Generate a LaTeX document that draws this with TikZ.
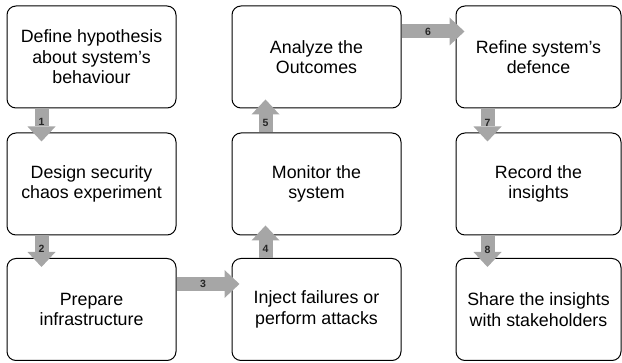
\documentclass[tikz,border=0pt]{standalone}
\usepackage{fontspec}
\setmainfont{Liberation Sans}
\usetikzlibrary{arrows.meta,calc}
\definecolor{arrowgray}{HTML}{A6A6A6}
\definecolor{labelgray}{HTML}{262626}
\begin{document}
\begin{tikzpicture}[x=1pt,y=-1pt,
  box/.style={draw=black, line width=1pt, rounded corners=9pt, minimum width=169pt,
    minimum height=102pt, align=center, inner sep=0pt,
    font=\fontsize{17.8}{20.5}\selectfont},
  flow/.style={draw=arrowgray, line width=14pt,
    -{Triangle[width=28pt,length=15pt,line width=0pt,fill=arrowgray]}},
  num/.style={text=labelgray, font=\bfseries\fontsize{10.5}{11}\selectfont, inner sep=0pt}]
\useasboundingbox (0,0) rectangle (622,363);
% boxes
\node[box] (r1c1) at (91.5,57) {Define hypothesis\\about system’s\\behaviour};
\node[box] (r2c1) at (91.5,184) {Design security\\chaos experiment};
\node[box] (r3c1) at (91.5,309.5) {Prepare\\infrastructure};
\node[box] (r1c2) at (316.5,57) {Analyze the\\Outcomes};
\node[box] (r2c2) at (316.5,184) {Monitor the\\system};
\node[box] (r3c2) at (316.5,309.5) {Inject failures or\\perform attacks};
\node[box, minimum width=165pt] (r1c3) at (538.5,57) {Refine system’s\\defence};
\node[box, minimum width=165pt] (r2c3) at (538.5,184) {Record the\\insights};
\node[box, minimum width=165pt] (r3c3) at (538.5,309.5) {Share the insights\\with stakeholders};
% arrows
\draw[flow] ($(r1c1.south west)+(35,0)$) -- node[num,pos=0.42]{1} ($(r2c1.north west)+(35,9)$);
\draw[flow] ($(r2c1.south west)+(35,0)$) -- node[num,pos=0.42]{2} ($(r3c1.north west)+(35,9)$);
\draw[flow] ($(r3c1.north east)+(0,26)$) -- node[num,pos=0.42]{3} ($(r3c2.north west)+(8,26)$);
\draw[flow] ($(r3c2.north west)+(34,0)$) -- node[num,pos=0.27]{4} ($(r2c2.south west)+(34,-10)$);
\draw[flow] ($(r2c2.north west)+(34,0)$) -- node[num,pos=0.29]{5} ($(r1c2.south west)+(34,-9)$);
\draw[flow] ($(r1c2.north east)+(0,26)$) -- node[num,pos=0.42]{6} ($(r1c3.north west)+(9,26)$);
\draw[flow] ($(r1c3.south west)+(32,0)$) -- node[num,pos=0.44]{7} ($(r2c3.north west)+(32,9)$);
\draw[flow] ($(r2c3.south west)+(32,0)$) -- node[num,pos=0.46]{8} ($(r3c3.north west)+(32,9)$);
\end{tikzpicture}
\end{document}
